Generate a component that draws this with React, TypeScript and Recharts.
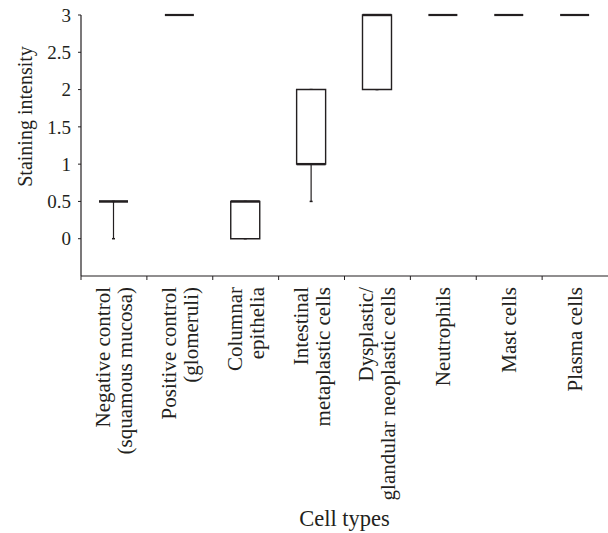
import React from 'react'
import { BarChart, Bar, XAxis, YAxis } from 'recharts'

// Label lines per cell type (rotated, read bottom-to-top)
const CATEGORIES: string[][] = [
  ['Negative control', '(squamous mucosa)'],
  ['Positive control', '(glomeruli)'],
  ['Columnar', 'epithelia'],
  ['Intestinal', 'metaplastic cells'],
  ['Dysplastic/', 'glandular neoplastic cells'],
  ['Neutrophils'],
  ['Mast cells'],
  ['Plasma cells'],
]

const MIN_VALS = [0, 3, 0, 0.5, 2, 3, 3, 3]
const Q1_VALS = [0.5, 3, 0, 1, 2, 3, 3, 3]
const MEDIAN_VALS = [0.5, 3, 0.5, 1, 3, 3, 3, 3]
const Q3_VALS = [0.5, 3, 0.5, 2, 3, 3, 3, 3]
const MAX_VALS = [0.5, 3, 0.5, 2, 3, 3, 3, 3]

const Y_TICKS = [0, 0.5, 1, 1.5, 2, 2.5, 3]

const INK = '#231f20'
const FONT = '"Liberation Serif", "Times New Roman", serif'
const X_TICK_SIZE = 4
const X_TICK_MARGIN = 7
const LINE_H = 22

const data = CATEGORIES.map((lines, i) => ({
  name: lines.join(' '),
  min: MIN_VALS[i],
  q1: Q1_VALS[i],
  median: MEDIAN_VALS[i],
  q3: Q3_VALS[i],
  max: MAX_VALS[i],
}))

// box + whiskers, drawn from the range bar [min, max]
function BoxShape(props: any) {
  const { x, y, width, height, payload } = props
  const { min, q1, median, q3, max } = payload
  const cx = x + width / 2
  if (max === min || !height) {
    return <line x1={x} x2={x + width} y1={y} y2={y} stroke={INK} strokeWidth={2.2} />
  }
  const k = height / (max - min)
  const py = (v: number) => y + (max - v) * k
  const top = py(q3)
  const bot = py(q1)
  return (
    <g>
      {min < q1 && <line x1={cx} x2={cx} y1={bot} y2={py(min)} stroke={INK} strokeWidth={1.2} />}
      {max > q3 && <line x1={cx} x2={cx} y1={top} y2={py(max)} stroke={INK} strokeWidth={1.2} />}
      <line x1={cx - 1.5} x2={cx + 1.5} y1={py(min)} y2={py(min)} stroke={INK} strokeWidth={1.5} />
      <line x1={cx - 1.5} x2={cx + 1.5} y1={py(max)} y2={py(max)} stroke={INK} strokeWidth={1.5} />
      <path
        d={`M${x},${top}H${x + width}V${bot}H${x}Z`}
        fill="#fff"
        stroke={INK}
        strokeWidth={1.4}
      />
      <line x1={x} x2={x + width} y1={py(median)} y2={py(median)} stroke={INK} strokeWidth={2.4} />
    </g>
  )
}

function CategoryTick(props: any) {
  const { x, y, payload, width, visibleTicksCount } = props
  const lines = CATEGORIES[payload.index] ?? [String(payload.value)]
  const half = payload.offset ?? width / visibleTicksCount / 2
  const axisY = y - X_TICK_SIZE - X_TICK_MARGIN
  return (
    <g>
      <line x1={x - half} x2={x - half} y1={axisY} y2={axisY + X_TICK_SIZE} stroke={INK} strokeWidth={1} />
      {lines.map((t, i) => {
        const lx = x + (i - (lines.length - 1) / 2) * LINE_H
        return (
          <text
            key={i}
            x={lx}
            y={y}
            transform={`rotate(-90, ${lx}, ${y})`}
            textAnchor="end"
            dominantBaseline="central"
            fontFamily={FONT}
            fontSize={21}
            fill={INK}
          >
            {t}
          </text>
        )
      })}
    </g>
  )
}

function YTitle(props: any) {
  const vb = props.viewBox
  const cx = vb.x + 25
  const cy = vb.y + vb.height / 2 - 29
  return (
    <text
      x={cx}
      y={cy}
      transform={`rotate(-90, ${cx}, ${cy})`}
      textAnchor="middle"
      dominantBaseline="central"
      fontFamily={FONT}
      fontSize={20}
      fill={INK}
    >
      Staining intensity
    </text>
  )
}

export default function App() {
  return (
    <div style={{ position: 'absolute', left: 0, top: 0, background: '#fff' }}>
      <BarChart width={608} height={533} data={data} margin={{ top: 15, right: 0, bottom: 1, left: 0 }}>
        <XAxis
          dataKey="name"
          interval={0}
          height={256}
          tickLine={false}
          tickSize={X_TICK_SIZE}
          tickMargin={X_TICK_MARGIN}
          axisLine={{ stroke: INK, strokeWidth: 1.2 }}
          tick={<CategoryTick />}
          label={{
            value: 'Cell types',
            position: 'insideBottom',
            offset: 6,
            fontFamily: FONT,
            fontSize: 22.5,
            fill: INK,
          }}
        />
        <YAxis
          width={81}
          domain={[-0.5, 3]}
          ticks={Y_TICKS}
          interval={0}
          tickSize={3}
          tickMargin={7}
          axisLine={{ stroke: INK, strokeWidth: 1.2 }}
          tickLine={{ stroke: INK }}
          tick={{ fontFamily: FONT, fontSize: 19, fill: INK }}
          label={(p: any) => <YTitle {...p} />}
        />
        <Bar
          dataKey={(d: any) => [d.min, d.max]}
          barSize={29}
          isAnimationActive={false}
          shape={<BoxShape />}
        />
      </BarChart>
    </div>
  )
}
